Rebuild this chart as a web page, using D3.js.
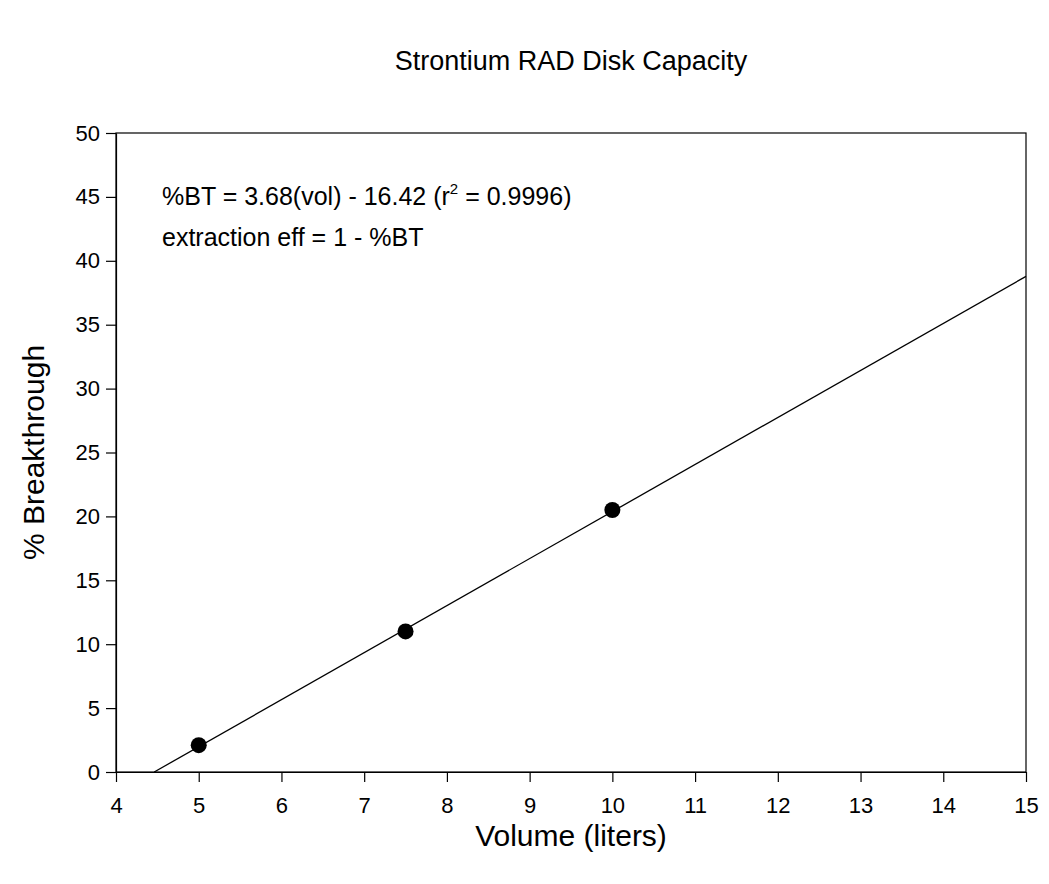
<!DOCTYPE html>
<html>
<head>
<meta charset="utf-8">
<script src="https://cdn.jsdelivr.net/npm/d3@7"></script>
<style>
  body { margin: 0; background: #fff; }
  text { font-family: "Liberation Sans", Arial, sans-serif; fill: #000; }
</style>
</head>
<body>
<svg id="chart" width="1049" height="884"></svg>
<script>
// measured points
var volume = [5, 7.5, 10];
var breakthrough = [2.1, 11.0, 20.5];

// linear fit from the annotation
var slope = 3.68, intercept = -16.42;

var xTicks = [4, 5, 6, 7, 8, 9, 10, 11, 12, 13, 14, 15];
var yTicks = [0, 5, 10, 15, 20, 25, 30, 35, 40, 45, 50];

var svg = d3.select("#chart"),
    plotLeft = 116, plotRight = 1026, plotTop = 133, plotBottom = 772;

var x = d3.scaleLinear().domain([4, 15]).range([plotLeft, plotRight]);
var y = d3.scaleLinear().domain([0, 50]).range([plotBottom, plotTop]);

// frame
svg.append("rect")
    .attr("x", plotLeft).attr("y", plotTop)
    .attr("width", plotRight - plotLeft).attr("height", plotBottom - plotTop)
    .attr("fill", "none").attr("stroke", "#000").attr("stroke-width", 1.2);

// axes
var xAxis = svg.append("g")
    .attr("transform", "translate(0," + plotBottom + ")")
    .call(d3.axisBottom(x).tickValues(xTicks).tickSize(10).tickSizeOuter(0).tickPadding(15));

var yAxis = svg.append("g")
    .attr("transform", "translate(" + plotLeft + ",0)")
    .call(d3.axisLeft(y).tickValues(yTicks).tickSize(10).tickSizeOuter(0).tickPadding(6));

[xAxis, yAxis].forEach(function(g) {
  g.attr("font-size", null).attr("font-family", null);
  g.select(".domain").attr("stroke", "#000").attr("stroke-width", 1.2);
  g.selectAll(".tick line").attr("stroke", "#000").attr("stroke-width", 1.2);
  g.selectAll(".tick text").style("font-size", "22px").attr("fill", "#000");
});

// regression line, clipped to y >= 0
var x0 = -intercept / slope;
var fit = [x0, 15].map(function(v) { return [v, slope * v + intercept]; });

svg.append("path")
    .datum(fit)
    .attr("fill", "none")
    .attr("stroke", "#000")
    .attr("stroke-width", 1.3)
    .attr("d", d3.line().x(function(d) { return x(d[0]); }).y(function(d) { return y(d[1]); }));

// points
svg.selectAll("circle.pt")
    .data(volume)
    .enter().append("circle")
    .attr("class", "pt")
    .attr("cx", function(d) { return x(d); })
    .attr("cy", function(d, i) { return y(breakthrough[i]); })
    .attr("r", 8)
    .attr("fill", "#000");

// annotation
var eq = svg.append("text")
    .attr("x", 162).attr("y", 205)
    .style("font-size", "25px");
eq.append("tspan").text("%BT = 3.68(vol) - 16.42 (r");
eq.append("tspan").attr("dy", -11).style("font-size", "15px").text("2");
eq.append("tspan").attr("dy", 11).text(" = 0.9996)");

svg.append("text")
    .attr("x", 162).attr("y", 246)
    .style("font-size", "25px")
    .text("extraction eff = 1 - %BT");

// titles
svg.append("text")
    .attr("x", 571).attr("y", 70)
    .attr("text-anchor", "middle")
    .style("font-size", "27px")
    .text("Strontium RAD Disk Capacity");

svg.append("text")
    .attr("x", 571).attr("y", 846)
    .attr("text-anchor", "middle")
    .style("font-size", "30px")
    .text("Volume (liters)");

svg.append("text")
    .attr("transform", "translate(44," + ((plotTop + plotBottom) / 2) + ") rotate(-90)")
    .attr("text-anchor", "middle")
    .style("font-size", "30px")
    .text("% Breakthrough");
</script>
</body>
</html>
